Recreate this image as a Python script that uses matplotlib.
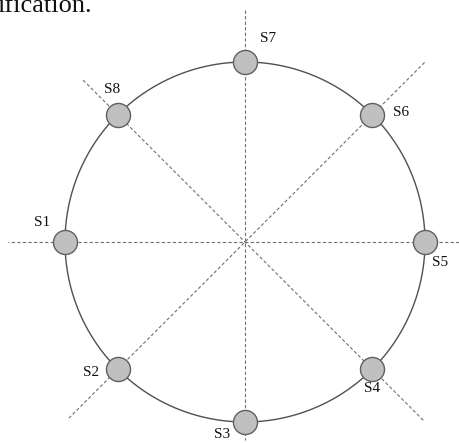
import numpy as np
import matplotlib.pyplot as plt

plt.rcParams['font.family'] = ['Liberation Serif', 'DejaVu Serif']

# sensor layout (pixel units, y down)
center = (245, 242)
radius = 180
labels = ['S1', 'S2', 'S3', 'S4', 'S5', 'S6', 'S7', 'S8']
angles = [180, 225, 270, 315, 0, 45, 90, 135]  # degrees, counter-clockwise
label_pos = [(42, 222), (91, 373), (222, 435), (372, 389),
             (440, 262), (401, 112), (268, 38), (112, 89)]

# dashed guide lines: angle and reach on each side of the centre
guide_angles = [0, 90, 45, 135]
guide_reach = [(214, 237), (232, 198), (254, 249), (229, 254)]

fig = plt.figure(figsize=(4.59, 4.43), dpi=100)
ax = fig.add_axes([0, 0, 1, 1])
ax.set_xlim(0, 459)
ax.set_ylim(443, 0)
ax.axis('off')

cx, cy = center
for a, (r1, r2) in zip(guide_angles, guide_reach):
    t = np.deg2rad(a)
    xs = [cx + r1 * np.cos(t), cx - r2 * np.cos(t)]
    ys = [cy - r1 * np.sin(t), cy + r2 * np.sin(t)]
    ax.plot(xs, ys, color='#707070', lw=0.8, ls=(0, (3, 2)), zorder=1)

theta = np.linspace(0, 2 * np.pi, 400)
ax.plot(cx + radius * np.cos(theta), cy - radius * np.sin(theta),
        color='#505050', lw=1.0, zorder=2)

t = np.deg2rad(angles)
ax.scatter(cx + radius * np.cos(t), cy - radius * np.sin(t), s=300,
           facecolor='#c0c0c0', edgecolor='#606060', linewidth=1.0, zorder=3)

for lab, (x, y) in zip(labels, label_pos):
    ax.text(x, y, lab, fontsize=11, ha='center', va='center', color='#111111')

# cropped caption text from the page above
ax.text(-3, 12, 'ification.', fontsize=19, ha='left', va='baseline', color='#111111')

fig.savefig('out.png', dpi=100)
